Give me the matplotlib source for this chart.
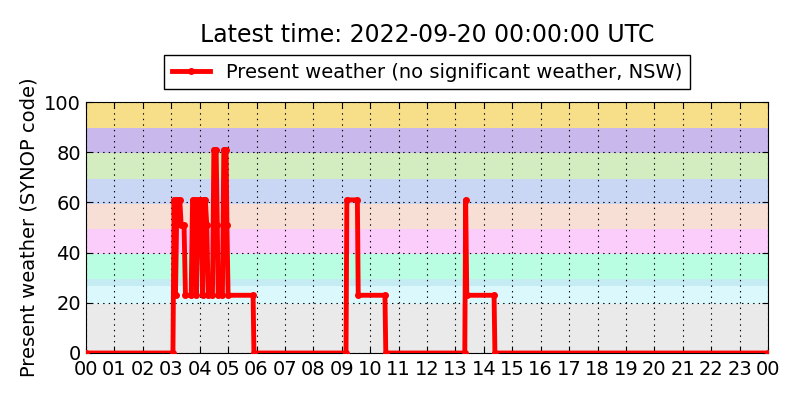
import matplotlib
matplotlib.use('Agg')
import matplotlib.pyplot as plt
import numpy as np

plt.rcParams['lines.scale_dashes'] = False

# tiempos (horas UTC) y codigo SYNOP
hours = [0.0, 3.06, 3.10, 3.15, 3.20, 3.30, 3.35, 3.45, 3.50, 3.70, 3.75,
         3.85, 3.88, 3.95, 4.05, 4.10, 4.15, 4.20, 4.25, 4.30, 4.45, 4.50,
         4.58, 4.62, 4.65, 4.80, 4.85, 4.93, 4.96, 5.00, 5.88, 5.91,
         9.15, 9.18, 9.55, 9.58, 10.52, 10.55,
         13.33, 13.36, 13.40, 14.36, 14.39, 24.0]
ww = [0, 0, 61, 23, 61, 61, 51, 51, 23, 23, 61,
      61, 23, 61, 61, 23, 61, 61, 51, 23, 23, 81,
      81, 51, 23, 23, 81, 81, 51, 23, 23, 0,
      0, 61, 61, 23, 23, 0,
      0, 61, 23, 23, 0, 0]

# bandas de fondo (limites y colores)
band_edges = [0, 19.5, 26.5, 29.5, 39.5, 49.5, 59.5, 69.5, 79.5, 89.5, 100]
band_colors = ['#eaeaea', '#dbf8fc', '#c5ebf3', '#b9fde3', '#fbcdfb',
               '#f7dfd6', '#c9d7f5', '#d3ecc0', '#c9b8ec', '#f7df8a']

xtick_labels = ['%02d' % (h % 24) for h in range(25)]

fig = plt.figure(figsize=(8, 4), dpi=100)
ax = fig.add_axes([0.1075, 0.1175, 0.8525, 0.6275])

for i in range(len(band_colors)):
    ax.axhspan(band_edges[i], band_edges[i+1], color=band_colors[i], lw=0, zorder=0)

ax.plot(hours, ww, color='r', lw=3.5, marker='.', ms=8, mec='r',
        label='Present weather (no significant weather, NSW)', zorder=3)

ax.set_xlim(0, 24)
ax.set_ylim(0, 100)
ax.set_xticks(range(25))
ax.set_xticklabels(xtick_labels)
ax.set_yticks([0, 20, 40, 60, 80, 100])
ax.tick_params(direction='in', top=True, right=True, labelsize=14, length=4)
ax.tick_params(axis='x', pad=5)
ax.grid(True, color='k', linestyle=(0, (1, 3)), lw=0.8, zorder=1)
ax.set_axisbelow(False)
ax.set_ylabel('Present weather (SYNOP code)', fontsize=14)

leg = ax.legend(loc='lower center', bbox_to_anchor=(0.5, 1.05), borderaxespad=0,
                fontsize=14, fancybox=False, framealpha=1, edgecolor='k',
                handlelength=2)
leg.get_frame().set_linewidth(1)

fig.text(0.534, 0.912, 'Latest time: 2022-09-20 00:00:00 UTC', ha='center',
         va='center', fontsize=17)

fig.savefig('out.png', dpi=100, facecolor='white')
